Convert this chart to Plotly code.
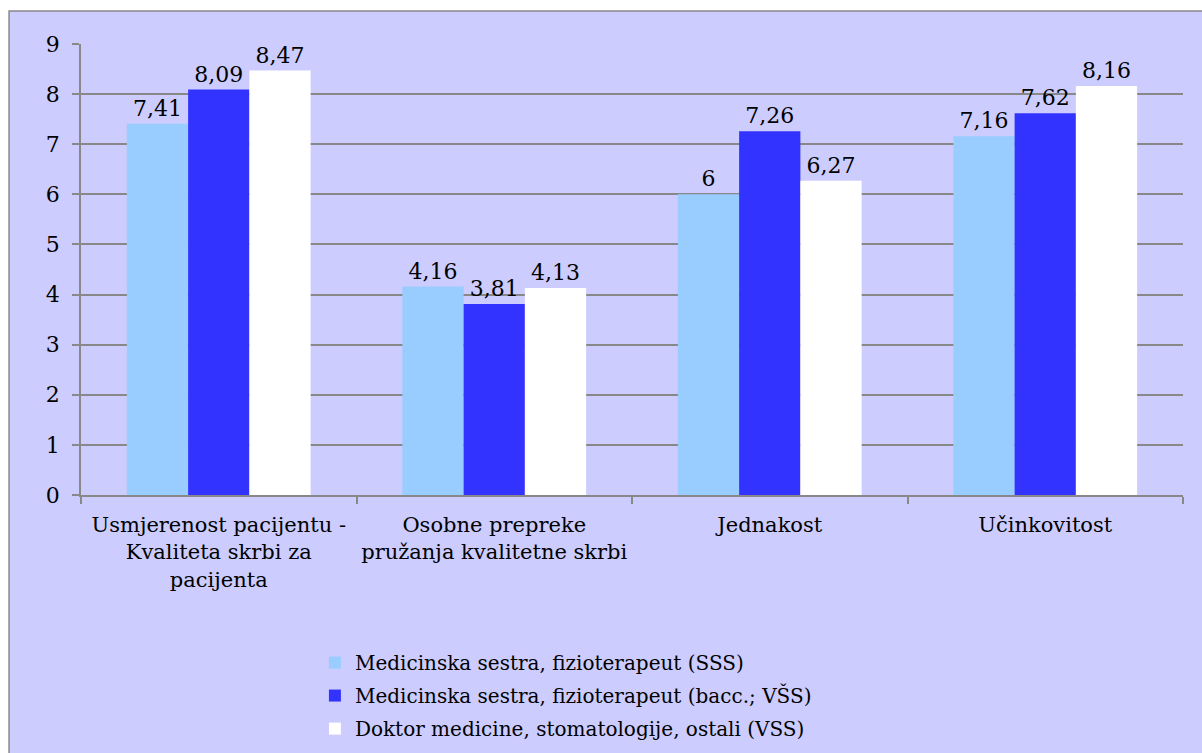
import plotly.graph_objects as go

categories = [
    "Usmjerenost pacijentu -<br>Kvaliteta skrbi za<br>pacijenta",
    "Osobne prepreke<br>pružanja kvalitetne skrbi<br> ",
    "Jednakost<br> <br> ",
    "Učinkovitost<br> <br> ",
]
series_names = [
    "Medicinska sestra, fizioterapeut (SSS)",
    "Medicinska sestra, fizioterapeut (bacc.; VŠS)",
    "Doktor medicine, stomatologije, ostali (VSS)",
]
sss = [7.41, 4.16, 6, 7.16]
vss_bacc = [8.09, 3.81, 7.26, 7.62]
vss = [8.47, 4.13, 6.27, 8.16]
colors = ["#99CCFF", "#3333FF", "#FFFFFF"]

FONT = "DejaVu Serif"


def fmt(v):
    return f"{v:g}".replace(".", ",")


fig = go.Figure()
for i, (name, vals, col) in enumerate(zip(series_names, [sss, vss_bacc, vss], colors)):
    fig.add_trace(go.Bar(
        x=categories, y=vals, name=name, legendgroup=f"g{i}",
        marker=dict(color=col, line=dict(width=0)),
        text=[fmt(v) for v in vals], textposition="outside",
        textfont=dict(family=FONT, size=22, color="#000000"),
        cliponaxis=False,
    ))

fig.update_layout(
    width=1202, height=753,
    margin=dict(l=81, r=19, t=44, b=258, autoexpand=False),
    paper_bgcolor="#FFFFFF",
    plot_bgcolor="#CCCCFF",
    barmode="group",
    bargap=0.333,
    bargroupgap=0,
    separators=",.",
    font=dict(family=FONT, size=21, color="#000000"),
    showlegend=True,
    legend=dict(
        x=0.262, y=0.146, xref="container", yref="container",
        xanchor="left", yanchor="top",
        bgcolor="rgba(0,0,0,0)", font=dict(family=FONT, size=20),
        tracegroupgap=4, itemsizing="constant",
    ),
    shapes=[dict(
        type="rect", xref="paper", yref="paper",
        x0=-0.0653, x1=1.2, y0=-1.0, y1=1.0732,
        fillcolor="#CCCCFF", line=dict(color="#888888", width=1.5),
        layer="below",
    )],
)
fig.update_xaxes(
    showline=True, linecolor="#888888", linewidth=1.5,
    ticks="outside", ticklen=7, tickcolor="#888888", tickwidth=1.5,
    tickson="boundaries", showgrid=False, automargin=False, tickangle=0,
    tickfont=dict(family=FONT, size=21), ticklabelstandoff=10,
)
fig.update_yaxes(
    range=[0, 9], dtick=1, showline=True, linecolor="#888888", linewidth=1.5,
    ticks="outside", ticklen=7, tickcolor="#888888", tickwidth=1.5,
    showgrid=True, gridcolor="#888888", gridwidth=1.5, zeroline=False,
    automargin=False,
    tickfont=dict(family=FONT, size=22), ticklabelstandoff=8,
)

fig.write_html("out.html", config={"displayModeBar": False},
               post_script="document.body.style.margin='0';")
